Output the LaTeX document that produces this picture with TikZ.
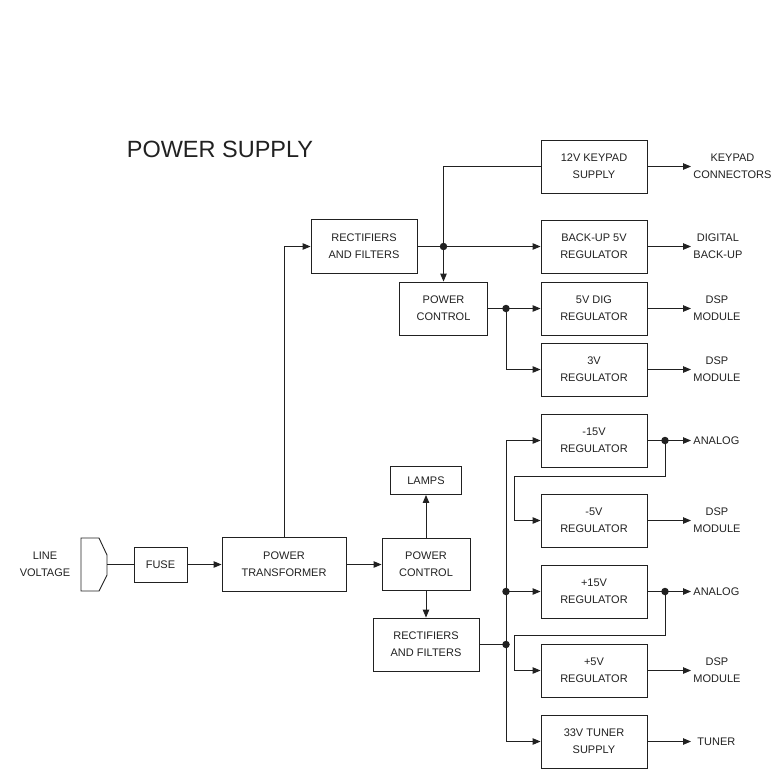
\documentclass[tikz,border=0pt]{standalone}
\usepackage{fontspec}
\setmainfont{Liberation Sans}
\usetikzlibrary{arrows.meta}
\definecolor{ink}{gray}{0.13}
\begin{document}
\begin{tikzpicture}[x=1pt,y=-1pt,
  line width=0.9pt, draw=ink,
  box/.style={draw=ink, line width=0.9pt, minimum width=106pt, minimum height=53pt, inner sep=0pt, align=center, text=ink, font=\fontsize{11}{17}\selectfont},
  lbl/.style={anchor=west, inner sep=2pt, align=center, text=ink, font=\fontsize{11}{17}\selectfont},
  arr/.style={-{Triangle[length=8pt,width=6.5pt]}},
  dot/.style={circle, fill=ink, inner sep=0pt, minimum size=7.5pt}
]
\useasboundingbox (0,0) rectangle (778,772);

% title
\node[text=ink, font=\fontsize{23.5}{28}\selectfont, inner sep=0pt] (title) at (220,149) {POWER SUPPLY};

% line voltage and plug
\node[align=center, text=ink, font=\fontsize{11}{17}\selectfont, inner sep=0pt] (lv) at (45,564.5) {LINE\\VOLTAGE};
\draw[ink] (81,538) -- (99,538) -- (107,555) -- (107,575) -- (99,591) -- (81,591) -- cycle;
\coordinate (plugout) at (107,564.5);

% main boxes
\node[box, minimum width=53pt, minimum height=35pt] (fuse) at (160.5,564.5) {FUSE};
\node[box, minimum width=124pt, minimum height=54pt] (ptrans) at (284,564.5) {POWER\\TRANSFORMER};
\node[box, minimum width=88pt, minimum height=52pt] (pc2) at (426,564.5) {POWER\\CONTROL};
\node[box, minimum width=71pt, minimum height=28pt] (lamps) at (426,480.5) {LAMPS};
\node[box, minimum width=106pt, minimum height=53pt] (rf2) at (426,644.5) {RECTIFIERS\\AND FILTERS};
\node[box, minimum width=106pt, minimum height=54pt] (rf1) at (364,246.5) {RECTIFIERS\\AND FILTERS};
\node[box, minimum width=88pt, minimum height=53pt] (pc1) at (443.5,308.5) {POWER\\CONTROL};

% regulator column
\node[box] (kp) at (594,166.5) {12V KEYPAD\\SUPPLY};
\node[box] (bu) at (594,246.5) {BACK-UP 5V\\REGULATOR};
\node[box] (dig) at (594,308.5) {5V DIG\\REGULATOR};
\node[box] (r3) at (594,369.5) {3V\\REGULATOR};
\node[box] (m15) at (594,440.5) {-15V\\REGULATOR};
\node[box] (m5) at (594,520.5) {-5V\\REGULATOR};
\node[box] (p15) at (594,591.5) {+15V\\REGULATOR};
\node[box] (p5) at (594,670.5) {+5V\\REGULATOR};
\node[box] (t33) at (594,741.5) {33V TUNER\\SUPPLY};

% output labels
\node[lbl] (okp) at (691,166.5) {KEYPAD\\CONNECTORS};
\node[lbl] (obu) at (691,246.5) {DIGITAL\\BACK-UP};
\node[lbl] (odig) at (691,308.5) {DSP\\MODULE};
\node[lbl] (or3) at (691,369.5) {DSP\\MODULE};
\node[lbl] (om15) at (691,440.5) {ANALOG};
\node[lbl] (om5) at (691,520.5) {DSP\\MODULE};
\node[lbl] (op15) at (691,591.5) {ANALOG};
\node[lbl] (op5) at (691,670.5) {DSP\\MODULE};
\node[lbl, inner xsep=6pt] (ot33) at (691,741.5) {TUNER};

% junctions
\coordinate (j1) at (443.5,246.5);
\coordinate (j2) at (506,308.5);
\coordinate (jA) at (506,591.5);
\coordinate (jB) at (506,644.5);
\coordinate (j3) at (665,440.5);
\coordinate (j4) at (665,591.5);
\coordinate (k1) at (514,476);
\coordinate (k2) at (514,635);

% lower chain
\draw (plugout) -- (fuse.west);
\draw[arr] (fuse.east) -- (ptrans.west);
\draw[arr] (ptrans.east) -- (pc2.west);
\draw[arr] (pc2.north) -- (lamps.south);
\draw[arr] (pc2.south) -- (rf2.north);

% upper chain
\draw[arr] (ptrans.north) |- (rf1.west);
\draw (rf1.east) -- (j1);
\draw[arr] (j1) -- (bu.west);
\draw (j1) |- (kp.west);
\draw[arr] (j1) -- (pc1.north);
\draw (pc1.east) -- (j2);
\draw[arr] (j2) -- (dig.west);
\draw[arr] (j2) |- (r3.west);

% lower bus
\draw (rf2.east) -- (jB);
\draw[arr] (jB) |- (m15.west);
\draw[arr] (jB) |- (t33.west);
\draw[arr] (jA) -- (p15.west);

% cross feeds
\draw (m15.east) -- (j3);
\draw[arr] (j3) |- (k1) |- (m5.west);
\draw (p15.east) -- (j4);
\draw[arr] (j4) |- (k2) |- (p5.west);

% outputs
\draw[arr] (kp.east) -- (okp.west);
\draw[arr] (bu.east) -- (obu.west);
\draw[arr] (dig.east) -- (odig.west);
\draw[arr] (r3.east) -- (or3.west);
\draw[arr] (j3) -- (om15.west);
\draw[arr] (m5.east) -- (om5.west);
\draw[arr] (j4) -- (op15.west);
\draw[arr] (p5.east) -- (op5.west);
\draw[arr] (t33.east) -- (ot33.west);

% dots
\foreach \p in {j1,j2,jA,jB,j3,j4} \node[dot] at (\p) {};
\end{tikzpicture}
\end{document}
